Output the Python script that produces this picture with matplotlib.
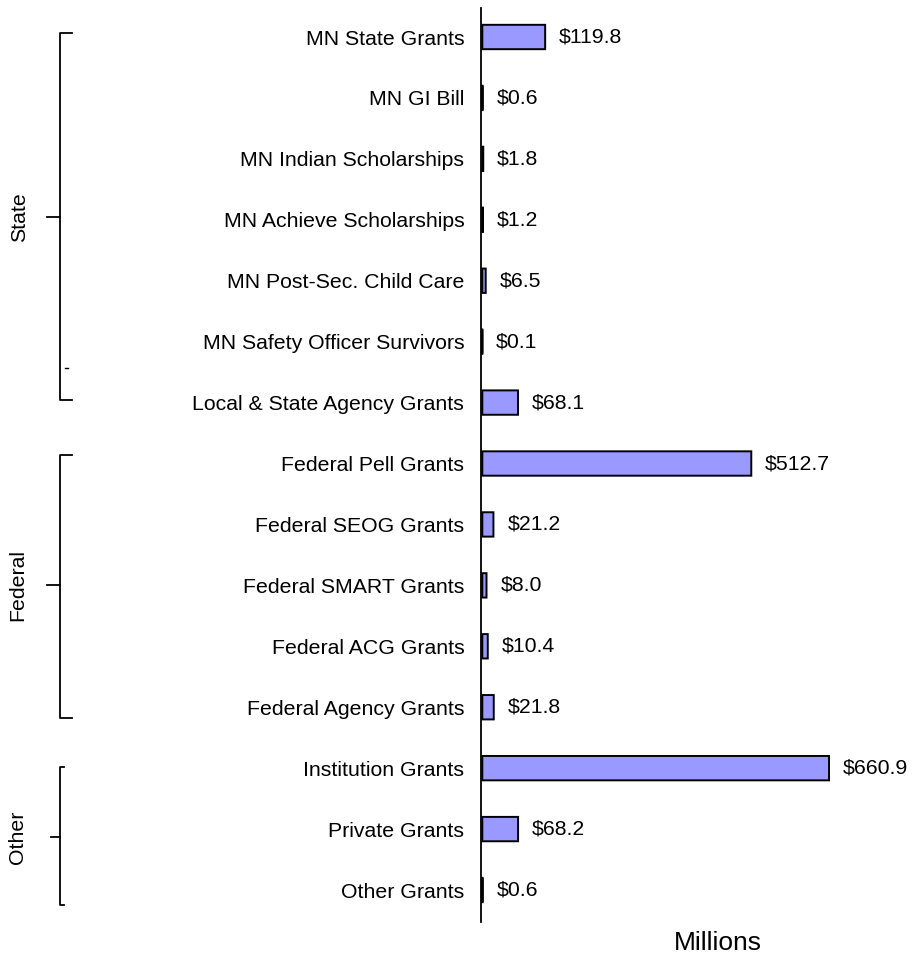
import matplotlib
matplotlib.use("Agg")
import matplotlib.pyplot as plt
import matplotlib.transforms as mtransforms
import numpy as np

plt.rcParams['font.family'] = ['Liberation Sans', 'DejaVu Sans']

# grant programs, top to bottom
labels = ["MN State Grants", "MN GI Bill", "MN Indian Scholarships",
          "MN Achieve Scholarships", "MN Post-Sec. Child Care",
          "MN Safety Officer Survivors", "Local & State Agency Grants",
          "Federal Pell Grants", "Federal SEOG Grants", "Federal SMART Grants",
          "Federal ACG Grants", "Federal Agency Grants",
          "Institution Grants", "Private Grants", "Other Grants"]
amounts = [119.8, 0.6, 1.8, 1.2, 6.5, 0.1, 68.1,
           512.7, 21.2, 8.0, 10.4, 21.8,
           660.9, 68.2, 0.6]
groups = ["State", "Federal", "Other"]

W, H = 914, 959
fs = 15.3
fig = plt.figure(figsize=(W/100., H/100.), dpi=100)
ax = fig.add_axes([481./W, 1-922./H, 421./W, 914./H])

y = np.arange(len(labels))
ax.barh(y, amounts, height=0.4, color='#9999ff', edgecolor='black',
        linewidth=1.4, snap=False)
for yi, v in zip(y, amounts):
    ax.annotate("$%.1f" % v, (v, yi), xytext=(10, 0), textcoords='offset points',
                va='center', ha='left', fontsize=fs)

ax.set_xlim(-2.5, 800)
ax.set_ylim(14.525, -0.476)
ax.set_yticks(y)
ax.set_yticklabels(labels, fontsize=fs)
ax.tick_params(axis='y', length=0, pad=12)
ax.set_xticks([])
for s in ['top', 'right', 'bottom']:
    ax.spines[s].set_visible(False)
ax.spines['left'].set_linewidth(1.3)

fig.text(718./W, 1-943./H, "Millions", ha='center', va='center', fontsize=19)

# brackets for the groups: top, bottom, middle (rows), end x, mid-tick x, text x (pixels)
tr = mtransforms.blended_transform_factory(fig.transFigure, ax.transData)
brackets = [(-0.066, 5.96, 2.95, 72, 47, 20),
            (6.86, 11.18, 8.99, 72, 47, 18),
            (11.98, 14.25, 13.13, 64, 51, 18)]
bx = 60
for name, (top, bot, mid, xend, xmid, xtxt) in zip(groups, brackets):
    ax.plot([xend/W, bx/W, bx/W, xend/W], [top, top, bot, bot], color='black',
            lw=1.3, transform=tr, clip_on=False)
    ax.plot([xmid/W, bx/W], [mid, mid], color='black', lw=1.3, transform=tr, clip_on=False)
    ax.text(xtxt/W, mid, name, rotation=90, ha='center', va='center', fontsize=fs,
            transform=tr)
# stray tick mark in the original
ax.plot([65./W, 68./W], [5.43, 5.43], color='black', lw=1, transform=tr, clip_on=False)

fig.savefig("out.png", dpi=100)
